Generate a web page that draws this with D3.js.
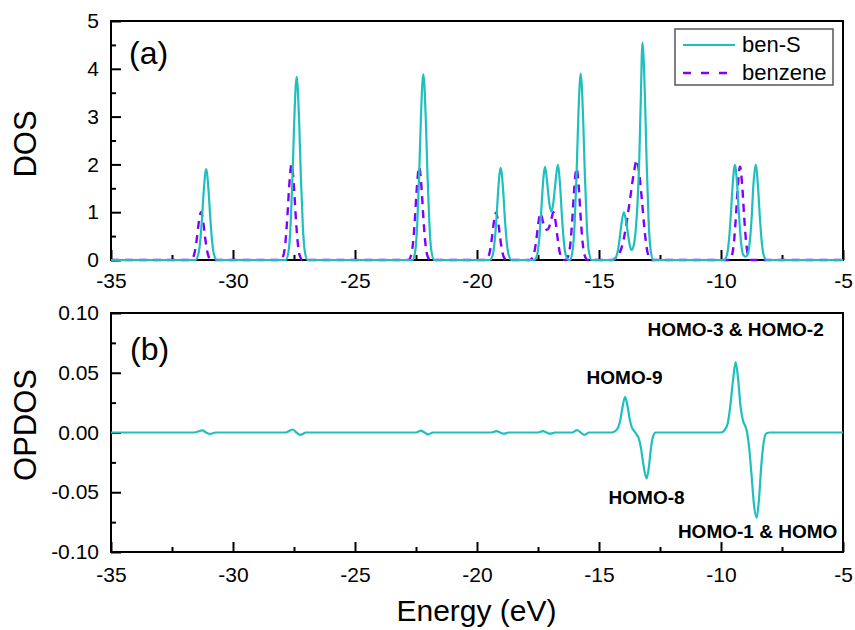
<!DOCTYPE html>
<html><head><meta charset="utf-8">
<script src="https://cdn.jsdelivr.net/npm/d3@7"></script>
<style>
body{margin:0;background:#fff;}
svg text{font-family:"Liberation Sans",Arial,sans-serif;fill:#000;}
</style></head>
<body><svg id="c" width="855" height="630"></svg>
<script>
// ---- data ----
const xTicks = [-35,-30,-25,-20,-15,-10,-5];
const xMinor = [-32.5,-27.5,-22.5,-17.5,-12.5,-7.5];
const dosTicks = [0,1,2,3,4,5];
const dosMinor = [0.5,1.5,2.5,3.5,4.5];
const opdosTicks = [-0.10,-0.05,0.00,0.05,0.10];
const opdosMinor = [-0.075,-0.025,0.025,0.075];
const seriesNames = ["ben-S","benzene"];

const benS = [
[-35,0],
[-31.55,0],[-31.43,0.1],[-31.35,0.36],[-31.27,0.87],[-31.2,1.44],[-31.1,1.90],[-31.0,1.44],[-30.93,0.87],[-30.85,0.36],[-30.77,0.1],[-30.65,0],
[-27.84,0],[-27.72,0.19],[-27.64,0.73],[-27.56,1.76],[-27.49,2.91],[-27.39,3.83],[-27.29,2.91],[-27.22,1.76],[-27.14,0.73],[-27.06,0.19],[-26.94,0],
[-22.65,0],[-22.53,0.19],[-22.45,0.74],[-22.37,1.79],[-22.3,2.96],[-22.2,3.89],[-22.1,2.96],[-22.03,1.79],[-21.95,0.74],[-21.87,0.19],[-21.75,0],
[-19.48,0],[-19.36,0.1],[-19.28,0.37],[-19.2,0.89],[-19.13,1.47],[-19.03,1.93],[-18.93,1.47],[-18.86,0.89],[-18.78,0.37],[-18.7,0.1],[-18.58,0],
[-17.66,0],[-17.54,0.1],[-17.46,0.38],[-17.38,0.92],[-17.31,1.5],[-17.21,1.95],[-17.12,1.6],[-17.04,1.2],[-16.95,1.01],[-16.87,1.2],[-16.79,1.6],[-16.69,1.99],[-16.59,1.52],[-16.52,0.92],[-16.44,0.38],[-16.36,0.1],[-16.24,0],
[-16.2,0],[-16.08,0.2],[-16.0,0.74],[-15.92,1.79],[-15.85,2.96],[-15.75,3.9],[-15.65,2.96],[-15.58,1.79],[-15.5,0.74],[-15.42,0.2],[-15.3,0],
[-14.43,0],[-14.31,0.05],[-14.23,0.19],[-14.15,0.46],[-14.08,0.76],[-13.98,1.0],[-13.88,0.78],[-13.8,0.5],[-13.72,0.27],[-13.66,0.21],[-13.58,0.3],[-13.5,0.6],[-13.42,1.2],[-13.35,2.1],[-13.29,3.3],[-13.22,4.55],[-13.12,3.46],[-13.05,2.09],[-12.97,0.86],[-12.89,0.23],[-12.77,0],
[-9.88,0],[-9.76,0.1],[-9.68,0.38],[-9.6,0.92],[-9.53,1.51],[-9.43,1.99],[-9.33,1.51],[-9.26,0.92],[-9.18,0.38],[-9.1,0.12],[-9.0,0.07],[-8.9,0.12],[-8.82,0.38],[-8.74,0.92],[-8.68,1.51],[-8.58,1.99],[-8.48,1.51],[-8.41,0.92],[-8.33,0.38],[-8.25,0.1],[-8.13,0],
[-5,0]
];

const benzene = [
[-35,0],
[-31.76,0],[-31.64,0.05],[-31.56,0.19],[-31.48,0.46],[-31.41,0.76],[-31.31,1.0],[-31.21,0.76],[-31.14,0.46],[-31.06,0.19],[-30.98,0.05],[-30.86,0],
[-28.05,0],[-27.93,0.1],[-27.85,0.38],[-27.77,0.92],[-27.7,1.52],[-27.6,2.0],[-27.5,1.52],[-27.43,0.92],[-27.35,0.38],[-27.27,0.1],[-27.15,0],
[-22.82,0],[-22.7,0.1],[-22.62,0.37],[-22.54,0.9],[-22.47,1.48],[-22.37,1.95],[-22.27,1.48],[-22.2,0.9],[-22.12,0.37],[-22.04,0.1],[-21.92,0],
[-19.67,0],[-19.55,0.05],[-19.47,0.19],[-19.39,0.46],[-19.32,0.75],[-19.22,0.99],[-19.12,0.75],[-19.05,0.46],[-18.97,0.19],[-18.89,0.05],[-18.77,0],
[-17.84,0],[-17.72,0.05],[-17.64,0.19],[-17.56,0.46],[-17.49,0.76],[-17.39,0.98],[-17.3,0.8],[-17.2,0.66],[-17.13,0.63],[-17.05,0.68],[-16.96,0.84],[-16.87,1.0],[-16.77,0.77],[-16.7,0.47],[-16.62,0.19],[-16.54,0.05],[-16.42,0],
[-16.37,0],[-16.25,0.1],[-16.17,0.36],[-16.09,0.88],[-16.02,1.46],[-15.92,1.92],[-15.82,1.46],[-15.75,0.88],[-15.67,0.36],[-15.59,0.1],[-15.47,0],
[-14.45,0],[-14.25,0.08],[-14.1,0.22],[-13.98,0.45],[-13.85,0.85],[-13.72,1.3],[-13.58,1.8],[-13.45,2.09],[-13.35,1.8],[-13.25,1.3],[-13.15,0.72],[-13.06,0.3],[-12.97,0.08],[-12.85,0],
[-9.67,0],[-9.55,0.1],[-9.47,0.37],[-9.39,0.9],[-9.32,1.48],[-9.22,1.95],[-9.12,1.48],[-9.05,0.9],[-8.97,0.37],[-8.89,0.1],[-8.77,0],
[-5,0]
];

const opdos = [
[-35,0],
[-31.6,0],[-31.25,0.0018],[-31.1,0],[-30.95,-0.0012],[-30.7,0],
[-27.85,0],[-27.55,0.0025],[-27.4,0],[-27.25,-0.002],[-27.0,0],
[-22.5,0],[-22.3,0.0015],[-22.15,0],[-22.0,-0.0015],[-21.8,0],
[-19.4,0],[-19.2,0.0012],[-19.05,0],[-18.9,-0.001],[-18.7,0],
[-17.5,0],[-17.3,0.0012],[-17.15,0],[-17.0,-0.001],[-16.8,0],
[-16.1,0],[-15.9,0.002],[-15.75,0],[-15.6,-0.002],[-15.4,0],
[-14.5,0],[-14.35,0.001],[-14.22,0.004],[-14.12,0.011],[-14.03,0.022],[-13.93,0.0299],[-13.83,0.022],[-13.74,0.011],[-13.65,0.004],[-13.55,0.001],[-13.45,-0.002],[-13.37,-0.005],[-13.28,-0.013],[-13.18,-0.027],[-13.05,-0.0385],[-12.95,-0.028],[-12.87,-0.013],[-12.78,-0.003],[-12.68,0],
[-10.0,0],[-9.85,0.002],[-9.72,0.008],[-9.62,0.022],[-9.5,0.045],[-9.4,0.059],[-9.3,0.045],[-9.2,0.022],[-9.1,0.01],[-9.0,0.005],[-8.93,0.0],[-8.85,-0.012],[-8.75,-0.035],[-8.65,-0.06],[-8.54,-0.0714],[-8.44,-0.055],[-8.35,-0.028],[-8.25,-0.008],[-8.15,-0.001],[-8.0,0],
[-5,0]
];

const annotations = [
  {text:"HOMO-3 & HOMO-2", x:-9.4, y:0.081},
  {text:"HOMO-9", x:-13.95, y:0.041},
  {text:"HOMO-8", x:-13.05, y:-0.060},
  {text:"HOMO-1 & HOMO", x:-8.5, y:-0.0885}
];

// ---- drawing ----
const TEAL = "#1fbfbf", PURPLE = "#8000ff";
const svg = d3.select("#c");
const x = d3.scaleLinear().domain([-35,-5]).range([111,843]);
const yTop = d3.scaleLinear().domain([0,5]).range([260,21]);
const yBot = d3.scaleLinear().domain([-0.1,0.1]).range([552,313]);
const fmtX = d => String(d);
const fmtB = d => d3.format(".2f")(d).replace("\u2212","-");

function panel(y, yTicksArr, yMinorArr, yFmt, xPad){
  const g = svg.append("g");
  const y0 = y.range()[0];
  const ax = g.append("g").attr("transform",`translate(0,${y0})`)
    .call(d3.axisBottom(x).tickValues(xTicks).tickFormat(fmtX).tickSize(-10).tickPadding(xPad));
  const axm = g.append("g").attr("transform",`translate(0,${y0})`)
    .call(d3.axisBottom(x).tickValues(xMinor).tickFormat("").tickSize(-5));
  const ay = g.append("g").attr("transform",`translate(${x.range()[0]},0)`)
    .call(d3.axisLeft(y).tickValues(yTicksArr).tickFormat(yFmt).tickSize(-10).tickPadding(12));
  const aym = g.append("g").attr("transform",`translate(${x.range()[0]},0)`)
    .call(d3.axisLeft(y).tickValues(yMinorArr).tickFormat("").tickSize(-5));
  [ax,axm,ay,aym].forEach(a=>{
    a.select(".domain").remove();
    a.selectAll("line").attr("stroke","#000").attr("stroke-width",2);
    a.selectAll("text").style("font-size","21px").attr("fill","#000");
  });
  g.append("rect").attr("x",x.range()[0]).attr("y",y.range()[1])
    .attr("width",x.range()[1]-x.range()[0]).attr("height",y.range()[0]-y.range()[1])
    .attr("fill","none").attr("stroke","#000").attr("stroke-width",2);
  return g;
}

panel(yTop, dosTicks, dosMinor, d=>String(d), 13);
panel(yBot, opdosTicks, opdosMinor, fmtB, 15);

const lineTop = d3.line().x(d=>x(d[0])).y(d=>yTop(d[1])).curve(d3.curveMonotoneX);
const lineBot = d3.line().x(d=>x(d[0])).y(d=>yBot(d[1])).curve(d3.curveMonotoneX);

svg.append("path").datum(benzene).attr("d",lineTop).attr("fill","none")
  .attr("stroke",PURPLE).attr("stroke-width",2.4).attr("stroke-dasharray","8,6");
svg.append("path").datum(benS).attr("d",lineTop).attr("fill","none")
  .attr("stroke",TEAL).attr("stroke-width",2.2);
svg.append("path").datum(opdos).attr("d",lineBot).attr("fill","none")
  .attr("stroke",TEAL).attr("stroke-width",2.2);

// panel labels
svg.append("text").attr("x",129).attr("y",64).style("font-size","32px").text("(a)");
svg.append("text").attr("x",130).attr("y",360).style("font-size","32px").text("(b)");

// axis titles
svg.append("text").attr("transform","translate(36,144) rotate(-90)").attr("text-anchor","middle")
  .style("font-size","31px").text("DOS");
svg.append("text").attr("transform","translate(36,425) rotate(-90)").attr("text-anchor","middle")
  .style("font-size","31px").text("OPDOS");
svg.append("text").attr("x",476.5).attr("y",621).attr("text-anchor","middle")
  .style("font-size","30px").text("Energy (eV)");

// legend
const lg = svg.append("g");
lg.append("rect").attr("x",675).attr("y",29).attr("width",158).attr("height",56)
  .attr("fill","#fff").attr("stroke","#555").attr("stroke-width",1.5);
lg.append("line").attr("x1",683).attr("x2",735).attr("y1",45).attr("y2",45)
  .attr("stroke",TEAL).attr("stroke-width",2.2);
lg.append("line").attr("x1",683).attr("x2",735).attr("y1",73).attr("y2",73)
  .attr("stroke",PURPLE).attr("stroke-width",2.4).attr("stroke-dasharray","8,10");
lg.append("text").attr("x",742).attr("y",52).style("font-size","22px").text(seriesNames[0]);
lg.append("text").attr("x",742).attr("y",80).style("font-size","22px").text(seriesNames[1]);

// annotations
svg.selectAll("text.ann").data(annotations).join("text").attr("class","ann")
  .attr("x",d=>x(d.x)).attr("y",d=>yBot(d.y)).attr("text-anchor","middle")
  .style("font-size","19px").style("font-weight","bold").text(d=>d.text);
</script></body></html>
